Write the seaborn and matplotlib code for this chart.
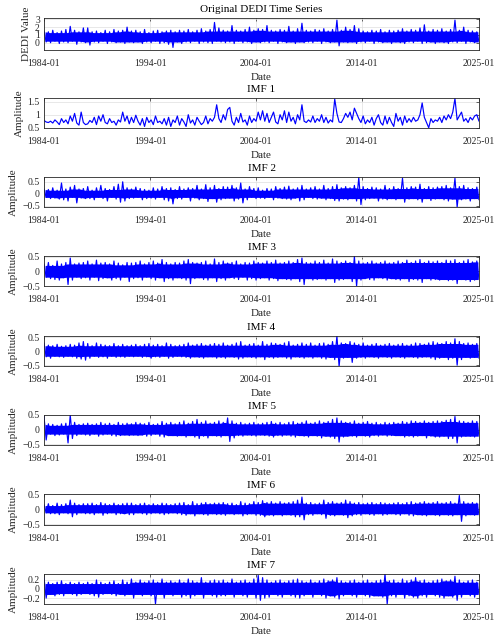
import numpy as np
import pandas as pd
import matplotlib
matplotlib.use("Agg")
import matplotlib.pyplot as plt
import seaborn as sns

# ---------------- data ----------------
# dense series: alternating local high / local low, read left to right
original = [
    1.5, .1, 1.4, 0, 1.6, .2, 1.3, -.1, 1.5, .1, 1.7, 0, 2.1, .2, 1.6, -.2, 1.4, .1, 1.9, 0,
    1.9, -.3, 1.4, .1, 1.5, 0, 1.3, .2, 1.6, -.1, 1.4, .1, 1.7, 0, 1.5, .1, 1.6, -.1, 2.0, .1,
    1.5, 0, 1.6, .1, 1.4, -.1, 1.7, .1, 1.3, 0, 1.5, .2, 1.6, -.1, 1.4, 0, 1.5, -.2, 1.6, -.6,
    1.4, .1, 1.6, -.1, 1.5, .1, 1.7, 0, 1.4, .2, 1.6, -.1, 1.8, .1, 1.5, 0, 1.7, -.1, 2.6, .2,
    1.9, .1, 1.6, 0, 1.5, .1, 2.2, -.1, 1.6, .2, 1.5, 0, 1.7, .1, 2.0, -.1, 1.6, .1, 1.8, 0,
    1.7, .1, 2.2, 0, 1.6, .2, 1.5, -.1, 1.7, .1, 1.6, 0, 2.1, .1, 1.5, -.1, 1.8, .1, 2.5, 0,
    1.6, .1, 1.5, 0, 1.7, .2, 1.6, -.1, 1.8, .1, 1.5, 0, 1.7, .1, 2.9, -.4, 1.6, .1, 2.0, 0,
    1.7, .1, 2.2, -.1, 1.8, .1, 1.5, 0, 1.4, .2, 1.6, -.1, 1.5, .1, 1.7, 0, 1.4, .1, 1.6, -.1,
    1.5, .1, 1.6, 0, 1.8, -.1, 1.5, .1, 1.7, 0, 1.6, .2, 1.9, -.1, 2.3, 0, 1.5, .1, 1.7, -.1,
    1.6, .1, 1.8, 0, 1.5, -.1, 1.7, .1, 2.9, 0, 1.6, .2, 2.0, -.1, 1.6, .1, 1.5, 0, 1.4, .1,
]
imf1 = [
    .78, .72, .70, .75, .68, .80, .72, .62, .85, .70, .80, .65, .95, .75, 1.05, .68, .60, 1.10, .70, .62,
    .65, .78, .70, .90, .62, .95, .75, 1.00, .70, .65, .85, .70, .75, .60, .80, .72, 1.10, .75, .95, .65,
    .90, .70, .98, .75, .60, .85, .55, .90, .70, .80, .62, .95, .70, .75, .65, .85, .60, .90, .55, .80,
    .70, .95, .60, .85, .72, .55, 1.00, .68, .80, .60, .90, .75, .62, .70, .95, .65, .85, .75, .90, 1.38,
    .85, .70, 1.00, .80, 1.20, 1.28, .75, .60, .90, .70, 1.05, .72, .80, .60, .95, .70, .85, .75, 1.10, .80,
    1.15, .75, 1.05, .70, .90, 1.10, .72, .65, 1.00, .80, 1.15, .70, 1.10, .75, .90, .65, 1.00, .80, 1.38, .75,
    .70, .80, .72, .95, .70, .85, .75, 1.00, .70, .90, .68, .80, .72, 1.60, 1.05, .72, .70, .85, 1.05, .90,
    1.10, .80, 1.25, 1.05, .85, .70, .95, .65, .80, .70, .90, .60, .85, 1.00, .70, .60, .95, .65, .90, .70,
    .55, 1.05, .75, .90, .60, .95, .70, .85, .72, .90, .75, .80, 1.00, 1.45, .90, .70, .50, .85, .70, .80,
    .75, .90, .70, .95, .80, 1.00, .85, 1.10, 1.62, .80, .95, 1.10, .75, .85, .70, .90, .80, .95, 1.00, .75,
]
imf2 = [
    .2, -.15, .18, -.2, .25, -.18, .15, -.22, .45, -.25, .2, -.3, .28, -.15, .35, -.38, .2, -.18, .22, -.2,
    .3, -.2, .15, -.25, .25, -.15, .35, -.2, .22, -.3, .18, -.15, .3, -.22, .4, -.35, .5, -.3, .25, -.2,
    .2, -.18, .28, -.15, .22, -.25, .18, -.2, .15, -.18, .25, -.22, .2, -.15, .3, -.25, .22, -.3, .25, -.42,
    .18, -.2, .3, -.22, .2, -.15, .25, -.3, .22, -.18, .35, -.25, .2, -.2, .38, -.32, .25, -.2, .35, -.35,
    .22, -.25, .3, -.2, .28, -.18, .35, -.3, .25, -.22, .45, -.38, .2, -.25, .3, -.15, .22, -.2, .25, -.18,
    .15, -.2, .22, -.15, .2, -.25, .3, -.18, .22, -.2, .28, -.22, .32, -.25, .2, -.18, .25, -.3, .35, -.25,
    .2, -.15, .25, -.2, .3, -.22, .2, -.18, .35, -.25, .22, -.2, .3, -.28, .38, -.3, .25, -.22, .3, -.25,
    .25, -.2, .35, -.3, .68, -.45, .3, -.25, .22, -.2, .28, -.18, .25, -.3, .2, -.22, .35, -.25, .22, -.2,
    .3, -.25, .22, -.2, .65, -.35, .25, -.22, .3, -.2, .28, -.25, .4, -.35, .22, -.2, .3, -.28, .25, -.22,
    .28, -.2, .3, -.25, .35, -.3, .25, -.22, .65, -.55, .3, -.25, .35, -.22, .25, -.3, .22, -.2, .28, -.25,
]
imf3 = [
    .25, -.2, .3, -.25, .2, -.28, .35, -.3, .25, -.22, .3, -.45, .45, -.3, .25, -.2, .28, -.25, .3, -.22,
    .35, -.3, .25, -.2, .38, -.32, .28, -.25, .3, -.22, .25, -.3, .35, -.25, .28, -.3, .22, -.2, .3, -.35,
    .28, -.25, .3, -.22, .35, -.3, .25, -.2, .3, -.25, .35, -.3, .28, -.22, .4, -.35, .3, -.25, .25, -.3,
    .3, -.22, .28, -.25, .35, -.3, .4, -.42, .3, -.25, .28, -.22, .3, -.28, .35, -.3, .25, -.22, .42, -.35,
    .3, -.25, .35, -.3, .28, -.22, .3, -.25, .35, -.28, .25, -.2, .3, -.3, .28, -.25, .35, -.3, .3, -.25,
    .28, -.22, .35, -.3, .3, -.25, .38, -.32, .28, -.25, .3, -.28, .35, -.3, .3, -.25, .4, -.35, .45, -.45,
    .3, -.25, .28, -.3, .35, -.28, .3, -.25, .38, -.3, .28, -.25, .42, -.38, .35, -.3, .3, -.28, .35, -.25,
    .3, -.35, .5, -.5, .35, -.3, .28, -.25, .3, -.28, .35, -.3, .28, -.22, .3, -.25, .35, -.3, .28, -.25,
    .3, -.28, .35, -.3, .3, -.25, .38, -.35, .3, -.28, .35, -.3, .4, -.38, .3, -.25, .35, -.3, .32, -.28,
    .35, -.3, .3, -.28, .38, -.32, .35, -.3, .4, -.42, .3, -.28, .35, -.3, .4, -.35, .32, -.3, .35, -.28,
]
imf4 = [
    .3, -.2, .22, -.25, .2, -.18, .25, -.2, .18, -.22, .2, -.18, .25, -.2, .22, -.25, .3, -.28, .35, -.32,
    .28, -.25, .2, -.18, .3, -.22, .25, -.2, .22, -.25, .2, -.18, .28, -.22, .2, -.2, .25, -.22, .2, -.18,
    .22, -.2, .25, -.18, .2, -.22, .25, -.2, .28, -.25, .22, -.2, .25, -.22, .2, -.18, .3, -.25, .25, -.22,
    .2, -.18, .22, -.2, .25, -.22, .3, -.25, .22, -.2, .25, -.22, .28, -.25, .22, -.2, .25, -.2, .28, -.25,
    .25, -.22, .3, -.25, .22, -.2, .25, -.22, .3, -.28, .35, -.25, .22, -.2, .25, -.22, .28, -.25, .22, -.2,
    .35, -.3, .25, -.22, .3, -.25, .28, -.22, .25, -.2, .3, -.25, .35, -.28, .22, -.2, .25, -.22, .3, -.25,
    .25, -.2, .3, -.25, .22, -.2, .28, -.25, .3, -.28, .25, -.22, .35, -.3, .55, -.55, .3, -.25, .28, -.22,
    .35, -.4, .3, -.25, .25, -.22, .3, -.25, .22, -.2, .25, -.22, .28, -.25, .22, -.2, .25, -.22, .28, -.25,
    .22, -.2, .25, -.22, .28, -.25, .22, -.2, .25, -.22, .3, -.25, .28, -.22, .25, -.2, .3, -.25, .35, -.3,
    .3, -.25, .28, -.22, .35, -.3, .3, -.25, .45, -.5, .35, -.3, .28, -.22, .3, -.25, .25, -.22, .28, -.25,
]
imf5 = [
    .45, -.35, .2, -.15, .18, -.2, .15, -.18, .2, -.15, .22, -.45, .5, -.3, .25, -.2, .18, -.15, .2, -.18,
    .22, -.2, .18, -.15, .2, -.22, .25, -.18, .2, -.15, .22, -.2, .18, -.22, .25, -.2, .2, -.18, .22, -.2,
    .2, -.18, .25, -.2, .22, -.18, .2, -.22, .25, -.2, .18, -.15, .2, -.22, .28, -.25, .22, -.2, .25, -.2,
    .2, -.22, .25, -.2, .3, -.25, .22, -.2, .28, -.25, .35, -.3, .25, -.22, .3, -.28, .22, -.2, .25, -.22,
    .3, -.25, .25, -.2, .4, -.4, .3, -.28, .22, -.2, .25, -.22, .2, -.18, .22, -.2, .25, -.22, .2, -.18,
    .22, -.2, .25, -.22, .28, -.25, .22, -.2, .25, -.22, .2, -.18, .25, -.22, .28, -.25, .22, -.2, .25, -.22,
    .3, -.25, .22, -.2, .25, -.22, .3, -.28, .25, -.22, .28, -.25, .35, -.3, .4, -.42, .3, -.25, .25, -.22,
    .25, -.22, .3, -.25, .22, -.2, .25, -.22, .28, -.25, .22, -.2, .25, -.22, .2, -.18, .25, -.22, .22, -.2,
    .25, -.2, .22, -.2, .28, -.25, .25, -.22, .3, -.25, .28, -.22, .25, -.2, .3, -.28, .25, -.22, .28, -.25,
    .3, -.25, .28, -.22, .32, -.3, .35, -.3, .45, -.45, .3, -.25, .28, -.22, .25, -.22, .3, -.25, .28, -.22,
]
imf6 = [
    .15, -.12, .18, -.15, .12, -.15, .2, -.18, .15, -.12, .18, -.15, .3, -.25, .2, -.18, .15, -.12, .18, -.15,
    .18, -.15, .2, -.18, .15, -.12, .22, -.2, .18, -.15, .15, -.12, .2, -.18, .15, -.15, .18, -.15, .2, -.18,
    .2, -.18, .15, -.12, .18, -.15, .2, -.18, .15, -.15, .18, -.12, .15, -.15, .2, -.18, .18, -.15, .15, -.12,
    .18, -.15, .2, -.18, .22, -.2, .15, -.15, .25, -.22, .18, -.15, .2, -.18, .22, -.2, .18, -.15, .2, -.18,
    .2, -.18, .22, -.2, .18, -.15, .2, -.18, .15, -.15, .25, -.22, .2, -.18, .18, -.15, .25, -.2, .22, -.2,
    .28, -.25, .22, -.2, .25, -.22, .2, -.18, .25, -.22, .2, -.18, .22, -.2, .25, -.25, .3, -.25, .4, -.35,
    .2, -.18, .22, -.2, .18, -.15, .2, -.18, .3, -.3, .22, -.2, .25, -.22, .2, -.18, .22, -.2, .3, -.28,
    .25, -.22, .2, -.18, .22, -.2, .18, -.15, .2, -.18, .22, -.2, .18, -.15, .22, -.2, .2, -.18, .18, -.15,
    .2, -.18, .22, -.2, .18, -.15, .22, -.2, .25, -.22, .2, -.18, .22, -.2, .25, -.22, .2, -.18, .22, -.2,
    .25, -.22, .2, -.18, .22, -.2, .25, -.22, .2, -.18, .45, -.4, .25, -.22, .2, -.18, .22, -.2, .2, -.18,
]
imf7 = [
    .25, -.2, .15, -.12, .12, -.15, .15, -.12, .18, -.15, .12, -.1, .15, -.12, .12, -.15, .15, -.12, .12, -.1,
    .15, -.12, .12, -.15, .2, -.18, .15, -.12, .12, -.1, .15, -.12, .18, -.15, .12, -.12, .2, -.15, .15, -.12,
    .22, -.2, .15, -.12, .2, -.15, .15, -.12, .18, -.15, .2, -.33, .15, -.12, .22, -.2, .15, -.12, .18, -.15,
    .15, -.12, .2, -.18, .15, -.15, .22, -.2, .18, -.15, .15, -.12, .25, -.2, .15, -.12, .18, -.15, .2, -.18,
    .18, -.15, .2, -.15, .15, -.12, .22, -.18, .15, -.12, .18, -.15, .2, -.18, .15, -.12, .22, -.2, .3, -.25,
    .25, -.2, .2, -.18, .15, -.12, .18, -.15, .2, -.18, .15, -.12, .18, -.15, .2, -.18, .22, -.2, .18, -.15,
    .15, -.12, .2, -.18, .15, -.12, .18, -.15, .22, -.2, .18, -.15, .2, -.18, .25, -.22, .18, -.15, .15, -.12,
    .18, -.15, .2, -.18, .15, -.12, .18, -.15, .2, -.18, .15, -.15, .18, -.15, .2, -.18, .33, -.33, .18, -.15,
    .2, -.18, .15, -.12, .22, -.2, .18, -.15, .2, -.18, .25, -.2, .18, -.15, .2, -.18, .15, -.12, .18, -.15,
    .2, -.18, .22, -.2, .18, -.15, .2, -.18, .28, -.25, .2, -.18, .15, -.12, .18, -.15, .2, -.18, .15, -.12,
]

series = [original, imf1, imf2, imf3, imf4, imf5, imf6, imf7]
dense = [True, False, True, True, True, True, True, True]
titles = ["Original DEDI Time Series", "IMF 1", "IMF 2", "IMF 3", "IMF 4", "IMF 5", "IMF 6", "IMF 7"]
ylabels = ["DEDI Value"] + ["Amplitude"] * 7
yticks = [[0, 1, 2, 3], [0.5, 1, 1.5], [-0.5, 0, 0.5], [-0.5, 0, 0.5],
          [-0.5, 0, 0.5], [-0.5, 0, 0.5], [-0.5, 0, 0.5], [-0.2, 0, 0.2]]
ytick_labels = [["0", "1", "2", "3"], ["0.5", "1", "1.5"]] + [["\u22120.5", "0", "0.5"]] * 5 + [["\u22120.2", "0", "0.2"]]
ylims = [(-0.93, 3.17), (0.49, 1.64), (-0.55, 0.7), (-0.5, 0.52),
         (-0.53, 0.55), (-0.52, 0.5), (-0.52, 0.5), (-0.33, 0.33)]
start_date, end_date = "1984-01-01", "2025-01-01"
xtick_dates = ["1984-01-01", "1994-01-01", "2004-01-01", "2014-01-01", "2025-01-01"]
xtick_labels = ["1984-01", "1994-01", "2004-01", "2014-01", "2025-01"]

# ---------------- style ----------------
sns.set_theme(style="white")
plt.rcParams["font.family"] = ["Liberation Serif", "DejaVu Serif"]
plt.rcParams["xtick.direction"] = "in"
plt.rcParams["ytick.direction"] = "in"

W, H = 500, 638
fig = plt.figure(figsize=(W / 100, H / 100), dpi=100)
fig.patch.set_facecolor("white")

tops = [18, 98, 177, 256, 336, 415, 494, 574]
bottoms = [50, 128, 207, 286, 366, 445, 525, 604]
left_px, right_px = 44, 479
BLUE = "#0000ff"

for i, vals in enumerate(series):
    ax = fig.add_axes([left_px / W, 1 - bottoms[i] / H,
                       (right_px - left_px) / W, (bottoms[i] - tops[i]) / H])
    dates = pd.date_range(start_date, end_date, periods=len(vals))
    df = pd.DataFrame({"Date": dates, "val": vals})
    if dense[i]:
        # solid body of the dense band: typical high/low levels of each stretch
        hi = pd.Series(vals[0::2])
        lo = pd.Series(vals[1::2])
        core_hi = hi.rolling(5, center=True, min_periods=1).min()
        core_lo = lo.rolling(5, center=True, min_periods=1).max()
        mid = dates[0::2] + (dates[1::2] - dates[0::2]) / 2
        ax.fill_between(mid, core_lo, core_hi, color=BLUE, linewidth=0, zorder=2)
    sns.lineplot(data=df, x="Date", y="val", ax=ax, color=BLUE,
                 linewidth=0.85, estimator=None, zorder=3)
    ax.set_xlim(pd.Timestamp(start_date), pd.Timestamp(end_date))
    ax.set_ylim(*ylims[i])
    ax.set_xticks(pd.to_datetime(xtick_dates))
    ax.set_xticklabels(xtick_labels)
    ax.set_yticks(yticks[i])
    ax.set_yticklabels(ytick_labels[i])
    ax.tick_params(axis="x", pad=6.5)
    ax.tick_params(axis="y", pad=3)
    ax.tick_params(axis="both", labelsize=7, length=2.5, width=0.5,
                   colors="#262626", top=True, right=True)
    ax.grid(True, color="#dedede", linewidth=0.5)
    ax.set_axisbelow(True)
    for sp in ax.spines.values():
        sp.set_color("#262626")
        sp.set_linewidth(0.6)
        sp.set_zorder(4)
    ax.set_title(titles[i], fontsize=8, pad=4, color="#000000")
    ax.set_xlabel("Date", fontsize=8, labelpad=3.5, color="#262626")
    ax.set_ylabel(ylabels[i], fontsize=8, labelpad=3, color="#262626")

fig.savefig("out.png", dpi=100, facecolor="white")
